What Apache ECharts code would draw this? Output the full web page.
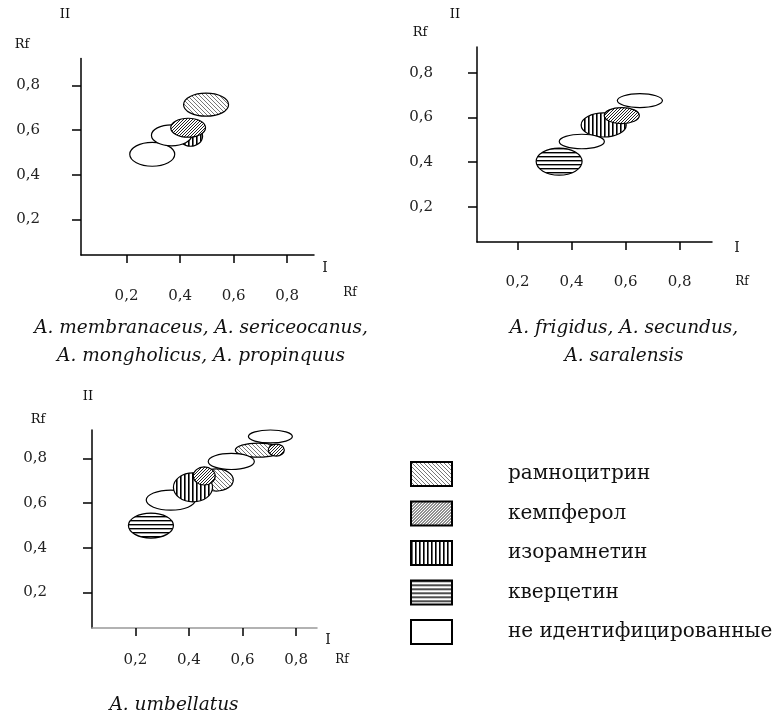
<!DOCTYPE html>
<html>
<head>
<meta charset="utf-8">
<script src="https://cdn.jsdelivr.net/npm/echarts@6/dist/echarts.min.js"></script>
<style>
  html, body { margin: 0; padding: 0; background: #fff; }
  #chart { width: 776px; height: 715px; }
</style>
</head>
<body>
<div id="chart"></div>
<script>
// названия флавоноидов (легенда)
const compounds = ['рамноцитрин', 'кемпферол', 'изорамнетин', 'кверцетин', 'не идентифицированные'];

// пятна: [Rf I центр, Rf II центр, ширина по Rf I, высота по Rf II, индекс вещества], в порядке рисования
const spotsA = [
  [0.296, 0.491, 0.168, 0.107, 4],
  [0.439, 0.572, 0.090, 0.090, 2],
  [0.368, 0.576, 0.150, 0.094, 4],
  [0.430, 0.610, 0.130, 0.085, 1],
  [0.497, 0.713, 0.168, 0.103, 0]
];
const spotsB = [
  [0.653, 0.675, 0.167, 0.062, 4],
  [0.354, 0.402, 0.170, 0.121, 3],
  [0.519, 0.566, 0.167, 0.108, 2],
  [0.438, 0.492, 0.167, 0.065, 4],
  [0.586, 0.608, 0.130, 0.072, 1]
];
const spotsC = [
  [0.704, 0.898, 0.164, 0.058, 4],
  [0.659, 0.837, 0.172, 0.063, 0],
  [0.726, 0.837, 0.060, 0.054, 1],
  [0.558, 0.786, 0.172, 0.072, 4],
  [0.332, 0.613, 0.183, 0.090, 4],
  [0.258, 0.499, 0.168, 0.112, 3],
  [0.502, 0.703, 0.127, 0.099, 0],
  [0.415, 0.670, 0.146, 0.130, 2],
  [0.457, 0.721, 0.082, 0.081, 1]
];

const tickValues = [0.2, 0.4, 0.6, 0.8];
const captionA = ['A. membranaceus, A. sericeocanus,', 'A. mongholicus, A. propinquus'];
const captionB = ['A. frigidus, A. secundus,', 'A. saralensis'];
const captionC = ['A. umbellatus'];

const serif = 'DejaVu Serif';

// штриховки
function tile(w, h, draw) {
  const c = document.createElement('canvas');
  c.width = w; c.height = h;
  const g = c.getContext('2d');
  g.fillStyle = '#fff';
  g.fillRect(0, 0, w, h);
  draw(g);
  return {image: c, repeat: 'repeat'};
}
const fills = [
  tile(4, 4, g => {
    g.strokeStyle = '#777'; g.lineWidth = 1;
    g.beginPath(); g.moveTo(-1, -1); g.lineTo(5, 5); g.stroke();
  }),
  tile(3, 3, g => {
    g.strokeStyle = '#222'; g.lineWidth = 1;
    g.beginPath(); g.moveTo(-1, 4); g.lineTo(4, -1); g.stroke();
  }),
  tile(4, 1, g => {
    g.fillStyle = '#000'; g.fillRect(0, 0, 1.6, 1);
  }),
  tile(1, 4, g => {
    g.fillStyle = '#000'; g.fillRect(0, 0, 1, 1.4);
  }),
  '#fff'
];

const panels = [
  {left: 81, top: 58.5, width: 233, height: 196.5, xMin: 0.03, xMax: 0.9, yMin: 0.04, yMax: 0.92,
   xMargin: 34, yMargin: 41, xLine: '#000', spots: spotsA},
  {left: 477, top: 47, width: 235, height: 195, xMin: 0.05, xMax: 0.92, yMin: 0.042, yMax: 0.915,
   xMargin: 33, yMargin: 44, xLine: '#000', spots: spotsB},
  {left: 92, top: 430, width: 225, height: 198, xMin: 0.038, xMax: 0.878, yMin: 0.04, yMax: 0.927,
   xMargin: 25, yMargin: 45, xLine: '#999', spots: spotsC}
];

const fmt = v => v.toFixed(1).replace('.', ',');
const labelStyle = {fontFamily: serif, fontSize: 15, color: '#222'};

const grid = panels.map(p => ({left: p.left, top: p.top, width: p.width, height: p.height}));
const xAxis = panels.map((p, i) => ({
  type: 'value', gridIndex: i, min: p.xMin, max: p.xMax,
  axisLine: {lineStyle: {color: p.xLine, width: 1.5}},
  axisTick: {customValues: tickValues, length: 8, lineStyle: {color: '#000', width: 1.5}},
  axisLabel: Object.assign({customValues: tickValues, formatter: fmt, margin: p.xMargin}, labelStyle),
  splitLine: {show: false}
}));
const yAxis = panels.map((p, i) => ({
  type: 'value', gridIndex: i, min: p.yMin, max: p.yMax,
  axisLine: {show: true, lineStyle: {color: '#000', width: 1.5}},
  axisTick: {show: true, customValues: tickValues, length: 9, lineStyle: {color: '#000', width: 1.5}},
  axisLabel: Object.assign({customValues: tickValues, formatter: fmt, margin: p.yMargin}, labelStyle),
  splitLine: {show: false}
}));

function renderSpot(params, api) {
  const c = api.coord([api.value(0), api.value(1)]);
  const s = api.size([api.value(2), api.value(3)]);
  return {
    type: 'ellipse',
    shape: {cx: c[0], cy: c[1], rx: s[0] / 2, ry: s[1] / 2},
    style: {fill: fills[api.value(4)], stroke: '#000', lineWidth: 1.2}
  };
}

const series = panels.map((p, i) => ({
  type: 'custom', name: 'panel' + i, xAxisIndex: i, yAxisIndex: i,
  renderItem: renderSpot, data: p.spots, silent: true
}));
// серии только для легенды
compounds.forEach((name, k) => {
  series.push({
    type: 'custom', name: name, coordinateSystem: 'none', data: [],
    renderItem: () => null,
    itemStyle: {color: fills[k], borderColor: '#000', borderWidth: 1}
  });
});

function txt(x, y, text, size, italic) {
  return {
    type: 'text', x: x, y: y,
    style: {text: text, fontFamily: serif, fontSize: size, fontStyle: italic ? 'italic' : 'normal',
            fill: '#111', align: 'center', verticalAlign: 'middle'}
  };
}
const graphic = [
  txt(65, 15, 'II', 13), txt(22, 45, 'Rf', 13), txt(325, 268, 'I', 14), txt(350, 293, 'Rf', 12),
  txt(455, 15, 'II', 13), txt(420, 33, 'Rf', 13), txt(737, 248, 'I', 14), txt(742, 282, 'Rf', 12),
  txt(88, 397, 'II', 13), txt(38, 420, 'Rf', 13), txt(328, 640, 'I', 14), txt(342, 660, 'Rf', 12)
];
captionA.forEach((t, k) => graphic.push(txt(201, 328 + k * 28, t, 18.5, true)));
captionB.forEach((t, k) => graphic.push(txt(624, 328 + k * 28, t, 18.5, true)));
captionC.forEach((t, k) => graphic.push(txt(174, 705 + k * 28, t, 18.5, true)));

const chart = echarts.init(document.getElementById('chart'), null, {renderer: 'canvas'});
chart.setOption({
  animation: false,
  backgroundColor: '#fff',
  grid: grid,
  xAxis: xAxis,
  yAxis: yAxis,
  legend: {
    data: compounds, orient: 'vertical', left: 410, top: 461, padding: 0,
    icon: 'rect', itemWidth: 41, itemHeight: 24, itemGap: 13.5,
    selectedMode: false,
    textStyle: {fontFamily: serif, fontSize: 20, color: '#111', padding: [0, 0, 0, 51]}
  },
  graphic: graphic,
  series: series
});
</script>
</body>
</html>
